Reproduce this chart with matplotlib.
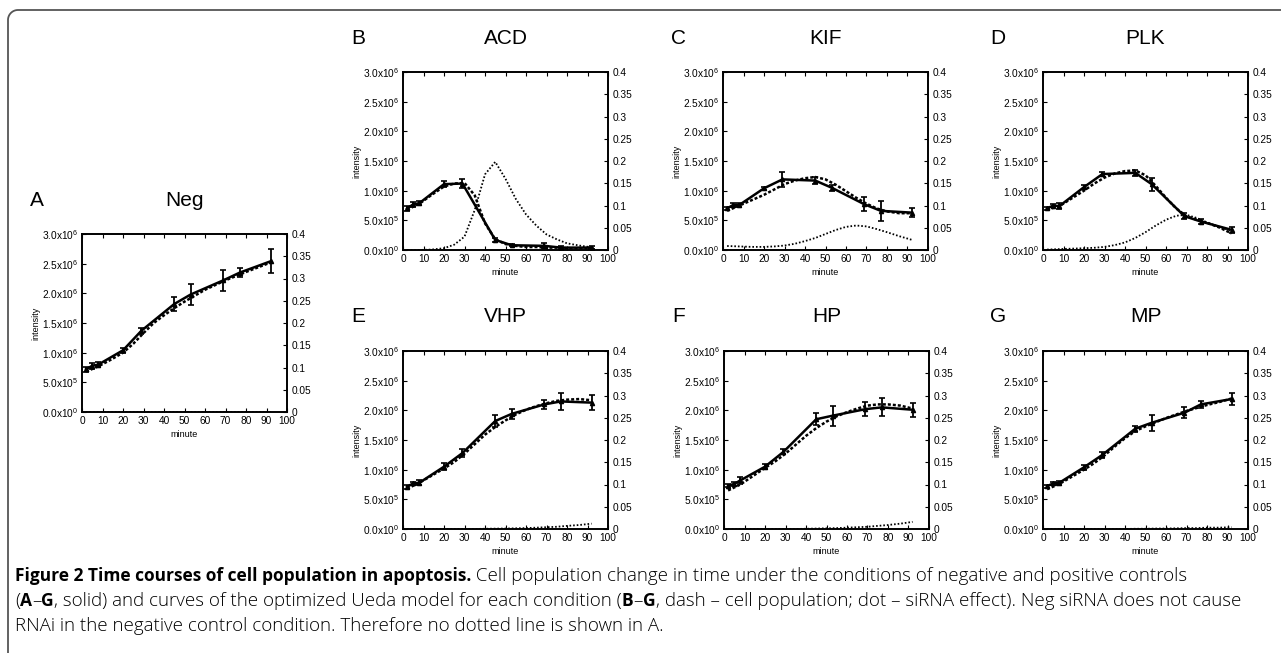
import numpy as np
import matplotlib
matplotlib.use('Agg')
import matplotlib.pyplot as plt

plt.rcParams['font.family'] = ['Liberation Sans', 'DejaVu Sans']
plt.rcParams['mathtext.fontset'] = 'custom'
plt.rcParams['mathtext.rm'] = 'Liberation Sans'
plt.rcParams['mathtext.it'] = 'Liberation Sans'

# measured time points (minute)
minutes = [2, 5, 8, 20, 29, 45, 53, 69, 77, 92]
# time grid of the model curves (minute)
model_minutes = [2, 8, 14, 20, 25, 30, 35, 40, 45, 50, 55, 60, 65, 70, 75, 80, 86, 92]

# observed intensity (x10^6) and error
neg_obs = [0.72, 0.78, 0.80, 1.04, 1.37, 1.82, 1.98, 2.22, 2.35, 2.54]
neg_err = [0.04, 0.05, 0.04, 0.04, 0.05, 0.12, 0.17, 0.18, 0.07, 0.20]
acd_obs = [0.70, 0.77, 0.79, 1.11, 1.12, 0.17, 0.08, 0.07, 0.04, 0.04]
acd_err = [0.04, 0.04, 0.03, 0.05, 0.07, 0.03, 0.02, 0.04, 0.02, 0.03]
kif_obs = [0.70, 0.76, 0.76, 1.04, 1.19, 1.17, 1.05, 0.77, 0.66, 0.63]
kif_err = [0.03, 0.03, 0.03, 0.03, 0.12, 0.06, 0.05, 0.12, 0.17, 0.08]
plk_obs = [0.70, 0.75, 0.74, 1.06, 1.28, 1.30, 1.11, 0.57, 0.48, 0.34]
plk_err = [0.03, 0.03, 0.05, 0.04, 0.03, 0.05, 0.11, 0.05, 0.05, 0.05]
vhp_obs = [0.71, 0.77, 0.78, 1.05, 1.28, 1.82, 1.94, 2.10, 2.15, 2.13]
vhp_err = [0.03, 0.03, 0.04, 0.06, 0.07, 0.10, 0.08, 0.07, 0.15, 0.13]
hp_obs = [0.73, 0.76, 0.82, 1.05, 1.30, 1.85, 1.91, 2.02, 2.05, 2.01]
hp_err = [0.03, 0.03, 0.06, 0.04, 0.04, 0.10, 0.17, 0.12, 0.15, 0.12]
mp_obs = [0.72, 0.77, 0.78, 1.04, 1.25, 1.69, 1.79, 1.96, 2.10, 2.19]
mp_err = [0.03, 0.03, 0.03, 0.04, 0.05, 0.05, 0.13, 0.09, 0.06, 0.10]

# model cell population (x10^6, dash)
neg_pop = [0.68, 0.77, 0.88, 1.00, 1.15, 1.33, 1.50, 1.63, 1.75, 1.86, 1.96, 2.06, 2.14, 2.22, 2.29, 2.36, 2.44, 2.52]
acd_pop = [0.68, 0.78, 0.93, 1.07, 1.12, 1.13, 0.92, 0.45, 0.18, 0.10, 0.07, 0.05, 0.05, 0.04, 0.04, 0.03, 0.03, 0.03]
kif_pop = [0.66, 0.75, 0.84, 0.93, 1.02, 1.11, 1.17, 1.21, 1.23, 1.19, 1.10, 0.99, 0.88, 0.78, 0.70, 0.65, 0.62, 0.62]
plk_pop = [0.68, 0.74, 0.87, 1.00, 1.12, 1.22, 1.29, 1.33, 1.34, 1.26, 1.08, 0.88, 0.70, 0.57, 0.51, 0.46, 0.38, 0.28]
vhp_pop = [0.68, 0.78, 0.90, 1.02, 1.13, 1.27, 1.43, 1.59, 1.72, 1.83, 1.93, 2.01, 2.07, 2.12, 2.16, 2.18, 2.19, 2.17]
hp_pop = [0.65, 0.75, 0.89, 1.03, 1.14, 1.27, 1.42, 1.57, 1.70, 1.81, 1.90, 1.97, 2.03, 2.08, 2.10, 2.10, 2.08, 2.03]
mp_pop = [0.67, 0.76, 0.88, 1.00, 1.11, 1.24, 1.39, 1.53, 1.65, 1.73, 1.80, 1.87, 1.93, 1.99, 2.04, 2.09, 2.14, 2.20]

# model siRNA effect (right axis, dot)
neg_sirna = [0] * 18
acd_sirna = [0, 0, 0.001, 0.004, 0.012, 0.03, 0.09, 0.17, 0.198, 0.16, 0.115, 0.08, 0.055, 0.035, 0.024, 0.015, 0.01, 0.006]
kif_sirna = [0.009, 0.008, 0.007, 0.007, 0.008, 0.010, 0.014, 0.020, 0.027, 0.036, 0.045, 0.052, 0.055, 0.053, 0.047, 0.040, 0.031, 0.023]
plk_sirna = [0.001, 0.002, 0.003, 0.004, 0.005, 0.007, 0.011, 0.017, 0.027, 0.040, 0.055, 0.068, 0.077, 0.079, 0.072, 0.062, 0.052, 0.043]
vhp_sirna = [0, 0, 0, 0, 0, 0, 0, 0.0005, 0.0008, 0.001, 0.0015, 0.002, 0.003, 0.004, 0.005, 0.007, 0.009, 0.012]
hp_sirna = [0, 0, 0, 0, 0, 0, 0, 0.0005, 0.001, 0.0015, 0.002, 0.003, 0.004, 0.005, 0.007, 0.009, 0.012, 0.016]
mp_sirna = [0, 0, 0, 0, 0, 0, 0, 0, 0.0005, 0.0005, 0.001, 0.001, 0.0015, 0.002, 0.002, 0.003, 0.003, 0.004]

letters = ['A', 'B', 'C', 'D', 'E', 'F', 'G']
names = ['Neg', 'ACD', 'KIF', 'PLK', 'VHP', 'HP', 'MP']
obs_all = [neg_obs, acd_obs, kif_obs, plk_obs, vhp_obs, hp_obs, mp_obs]
err_all = [neg_err, acd_err, kif_err, plk_err, vhp_err, hp_err, mp_err]
pop_all = [neg_pop, acd_pop, kif_pop, plk_pop, vhp_pop, hp_pop, mp_pop]
sirna_all = [neg_sirna, acd_sirna, kif_sirna, plk_sirna, vhp_sirna, hp_sirna, mp_sirna]

left_ticks = [0, 0.5, 1.0, 1.5, 2.0, 2.5, 3.0]
left_labels = [r'0.0x10$^0$', r'5.0x10$^5$', r'1.0x10$^6$', r'1.5x10$^6$',
               r'2.0x10$^6$', r'2.5x10$^6$', r'3.0x10$^6$']
right_ticks = [0, 0.05, 0.1, 0.15, 0.2, 0.25, 0.3, 0.35, 0.4]
right_labels = ['0', '0.05', '0.1', '0.15', '0.2', '0.25', '0.3', '0.35', '0.4']
x_ticks = list(range(0, 101, 10))

W, H = 1281, 653
fig = plt.figure(figsize=(W / 100, H / 100), dpi=100)

# axes boxes in pixels: left, top
boxes = [(82, 234), (403, 72), (723, 72), (1043, 72), (403, 351), (724, 351), (1043, 351)]
aw, ah = 205, 178

for i in range(7):
    l, t = boxes[i]
    ax = fig.add_axes([l / W, (H - t - ah) / H, aw / W, ah / H])
    ax2 = ax.twinx()

    ax.errorbar(minutes, obs_all[i], yerr=err_all[i], color='k', lw=1.8,
                elinewidth=1.3, capsize=2, capthick=1.2, marker='^', ms=3, zorder=3)
    ax.plot(model_minutes, pop_all[i], color='k', lw=1.8, ls=(0, (1.2, 0.8)), zorder=2)
    ax2.plot(model_minutes, sirna_all[i], color='k', lw=1.3, ls=(0, (0.9, 1.1)))

    ax.set_xlim(0, 100)
    ax.set_ylim(0, 3.0)
    ax2.set_ylim(0, 0.4)
    ax.set_xticks(x_ticks)
    ax.set_yticks(left_ticks)
    ax.set_yticklabels(left_labels)
    ax2.set_yticks(right_ticks)
    ax2.set_yticklabels(right_labels)
    ax.tick_params(direction='in', length=3, width=0.8, labelsize=7.3, pad=3,
                   top=True, right=False)
    ax2.tick_params(direction='in', length=3, width=0.8, labelsize=7.3, pad=3)
    for a in (ax, ax2):
        for s in a.spines.values():
            s.set_linewidth(1.2)
    ax.set_ylabel('intensity', fontsize=6.5, labelpad=1)
    ax.set_xlabel('minute', fontsize=6.5, labelpad=3)

    fig.text((l + aw / 2) / W, (H - t + 34) / H, names[i], fontsize=15,
             ha='center', va='center')
    fig.text((l - 45) / W, (H - t + 34) / H, letters[i], fontsize=15,
             ha='center', va='center')

# frame around the figure
r = 10
ang = np.linspace(np.pi, np.pi / 2, 20)
fx = np.concatenate([[8], 8 + r + r * np.cos(ang), [W]])
fy = np.concatenate([[0], H - 10 - r + r * np.sin(ang), [H - 10]])
fig.add_artist(plt.Line2D(fx / W, fy / H, color='#555555', lw=1.3, transform=fig.transFigure))

# caption
cap_font = 'Open Sans'
renderer = fig.canvas.get_renderer()


def caption_line(y_px, parts):
    x = 15
    for s, bold in parts:
        t = fig.text(x / W, (H - y_px) / H, s, fontsize=12.5 if bold else 13.5,
                     family=cap_font, fontweight='bold' if bold else 'light',
                     va='center', ha='left')
        x += t.get_window_extent(renderer).width


caption_line(576, [('Figure 2 Time courses of cell population in apoptosis.', True),
                   (' Cell population change in time under the conditions of negative and positive controls', False)])
caption_line(601, [('(', False), ('A', True), ('\u2013', False), ('G', True),
                   (', solid) and curves of the optimized Ueda model for each condition (', False),
                   ('B', True), ('\u2013', False), ('G', True),
                   (', dash \u2013 cell population; dot \u2013 siRNA effect). Neg siRNA does not cause', False)])
caption_line(626, [('RNAi in the negative control condition. Therefore no dotted line is shown in A.', False)])

fig.savefig('out.png', dpi=100)
